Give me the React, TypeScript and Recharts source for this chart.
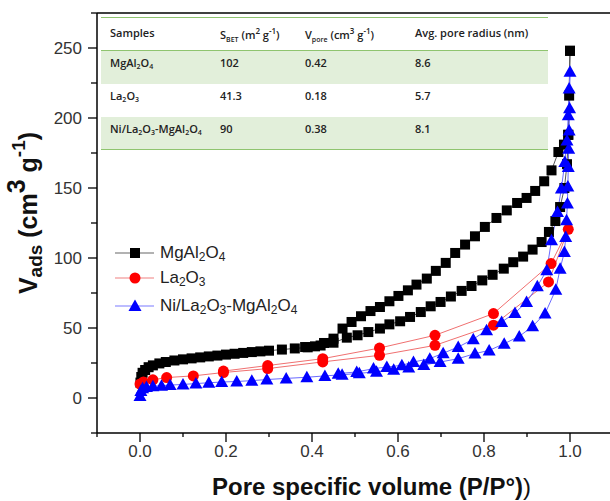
import React from "react";
import { LineChart, Line, XAxis, YAxis, ReferenceLine } from "recharts";

// axis ticks
const xTicks = [-0.1, 0, 0.1, 0.2, 0.3, 0.4, 0.5, 0.6, 0.7, 0.8, 0.9, 1.0, 1.1];
const xLabels = ["0.0", "0.2", "0.4", "0.6", "0.8", "1.0"];
const yTicks = [-25, 0, 25, 50, 75, 100, 125, 150, 175, 200, 225, 250, 275];
const yLabels = ["0", "50", "100", "150", "200", "250"];

// MgAl2O4 – adsorption / desorption branches
const mgAdsP = [0.001, 0.003, 0.006, 0.012, 0.02, 0.03, 0.045, 0.06, 0.08, 0.1, 0.12, 0.14, 0.16, 0.18, 0.2, 0.22, 0.24, 0.26, 0.28, 0.3, 0.33, 0.36, 0.39, 0.42, 0.45, 0.481, 0.506, 0.531, 0.558, 0.58, 0.605, 0.628, 0.653, 0.676, 0.699, 0.723, 0.748, 0.771, 0.796, 0.82, 0.846, 0.868, 0.891, 0.913, 0.934, 0.951, 0.966, 0.977, 0.987, 0.993, 0.996, 0.998, 1.0];
const mgAdsV = [11, 15, 18, 20, 22, 23.3, 24.7, 25.7, 26.8, 27.6, 28.3, 29, 29.7, 30.3, 31, 31.6, 32.2, 32.8, 33.3, 33.8, 34.6, 35.4, 36.2, 37.5, 39.5, 43.1, 44.8, 47.1, 49.6, 52.6, 54.8, 57.9, 61.4, 65.5, 68.6, 72.5, 76.5, 80, 84, 88, 92.4, 97, 101, 106, 111.4, 118.6, 126.4, 136.4, 150, 167, 188, 216, 248];
const mgDesP = [1.0, 0.996, 0.986, 0.973, 0.957, 0.94, 0.919, 0.899, 0.877, 0.853, 0.829, 0.802, 0.779, 0.756, 0.733, 0.711, 0.688, 0.667, 0.643, 0.623, 0.601, 0.58, 0.558, 0.536, 0.514, 0.492, 0.471, 0.45, 0.428, 0.407, 0.384];
const mgDesV = [248, 188, 181, 175.7, 162.6, 154.8, 147.9, 142.9, 139.3, 134, 128.6, 122.2, 115.5, 109.6, 103.6, 96.5, 90.8, 85.3, 81, 76.9, 72.9, 69.1, 65, 62.1, 58.4, 54.3, 49.6, 42.4, 39.3, 36.9, 36.4];

// La2O3
const laAdsP = [0.0, 0.008, 0.03, 0.062, 0.124, 0.194, 0.297, 0.425, 0.557, 0.686, 0.822, 0.95, 0.996];
const laAdsV = [10, 11.5, 13, 14.6, 15.8, 18.2, 21, 25.8, 30.5, 37.6, 52, 82.9, 120.5];
const laDesP = [0.956, 0.822, 0.686, 0.557, 0.425, 0.297, 0.194];
const laDesV = [96, 60.3, 44.8, 35.7, 28.1, 23.2, 19.2];

// Ni/La2O3-MgAl2O4
const niAdsP = [0.0, 0.002, 0.006, 0.015, 0.03, 0.05, 0.07, 0.1, 0.13, 0.16, 0.19, 0.225, 0.26, 0.295, 0.34, 0.388, 0.43, 0.47, 0.51, 0.55, 0.59, 0.625, 0.66, 0.698, 0.74, 0.779, 0.812, 0.847, 0.882, 0.913, 0.942, 0.967, 0.977, 0.987, 0.99, 0.992, 0.994, 0.995, 0.996, 0.997, 0.998, 0.999, 1.0];
const niAdsV = [1.5, 5, 7, 7.8, 8.4, 8.8, 9.2, 9.7, 10.3, 10.9, 11.4, 11.8, 12.4, 13.2, 14, 14.8, 15.8, 16.6, 17.6, 18.8, 20.2, 21.8, 23.6, 25.7, 28.1, 31.7, 34, 38.8, 44, 51.2, 60.3, 77.4, 92.4, 104.3, 115, 127, 139, 151, 165, 178, 191, 207, 233];
const niDesP = [0.998, 0.996, 0.993, 0.988, 0.98, 0.971, 0.957, 0.946, 0.924, 0.899, 0.872, 0.841, 0.806, 0.775, 0.74, 0.705, 0.674, 0.636, 0.609, 0.574, 0.543, 0.504, 0.461];
const niDesV = [221, 202, 184, 168.6, 149.6, 132.9, 112.6, 91.2, 79.8, 68.6, 60.7, 54.3, 48.4, 42, 36.4, 32, 28.1, 25.7, 23.4, 22.1, 21, 18.6, 17.4];

// table
const tableSamples = ["MgAl2O4", "La2O3", "Ni/La2O3-MgAl2O4"];
const tableSbet = ["102", "41.3", "90"];
const tableVpore = ["0.42", "0.18", "0.38"];
const tableRadius = ["8.6", "5.7", "8.1"];

const loop = (ap: number[], av: number[], dp: number[], dv: number[]) => [
  ...ap.map((p, i) => ({ p, v: av[i] })),
  ...dp.map((p, i) => ({ p, v: dv[i] })),
];

const mgData = loop(mgAdsP, mgAdsV, mgDesP, mgDesV);
const laData = loop(laAdsP, laAdsV, laDesP, laDesV);
const niData = loop(niAdsP, niAdsV, niDesP, niDesV);

const FONT = "Arial, 'Liberation Sans', sans-serif";

// chemical formula with subscripts
function Formula({ text, subSize }: { text: string; subSize: number }) {
  const parts = text.split(/(\d)/).filter((s) => s !== "");
  return (
    <>
      {parts.map((s, i) =>
        /\d/.test(s) ? (
          <sub key={i} style={{ fontSize: subSize, verticalAlign: "-0.25em", lineHeight: 0 }}>
            {s}
          </sub>
        ) : (
          <span key={i}>{s}</span>
        )
      )}
    </>
  );
}

const Square = (props: any) => {
  const { cx, cy, index } = props;
  if (cx == null || cy == null) return null;
  return <rect key={"s" + index} x={cx - 5} y={cy - 5} width={10} height={10} fill="#000" />;
};
const Circle = (props: any) => {
  const { cx, cy, index } = props;
  if (cx == null || cy == null) return null;
  return <circle key={"c" + index} cx={cx} cy={cy} r={5.5} fill="#ff0000" />;
};
const Triangle = (props: any) => {
  const { cx, cy, index } = props;
  if (cx == null || cy == null) return null;
  return (
    <polygon
      key={"t" + index}
      points={`${cx},${cy - 6.5} ${cx - 6.5},${cy + 5} ${cx + 6.5},${cy + 5}`}
      fill="#0000ff"
    />
  );
};

const XTick = (props: any) => {
  const { x, y, payload } = props;
  const v = payload.value;
  const label = xLabels.find((l) => Math.abs(parseFloat(l) - v) < 1e-6);
  return (
    <g>
      <line x1={x} y1={y} x2={x} y2={y + (label ? 9 : 4)} stroke="#000" strokeWidth={1.3} />
      {label && (
        <text x={x} y={y + 24} textAnchor="middle" fontSize={17} fontFamily={FONT} fill="#333">
          {label}
        </text>
      )}
    </g>
  );
};

const YTick = (props: any) => {
  const { x, y, payload } = props;
  const v = payload.value;
  const label = yLabels.find((l) => parseFloat(l) === v);
  return (
    <g>
      <line x1={x} y1={y} x2={x - (label ? 9 : 6)} y2={y} stroke="#000" strokeWidth={1.3} />
      {label && (
        <text x={x - 15} y={y + 6} textAnchor="end" fontSize={17} fontFamily={FONT} fill="#333">
          {label}
        </text>
      )}
    </g>
  );
};

const YTickRight = (props: any) => {
  const { x, y, payload } = props;
  const major = yLabels.some((l) => parseFloat(l) === payload.value);
  return <line x1={x} y1={y} x2={x - (major ? 6 : 4)} y2={y} stroke="#000" strokeWidth={1.3} />;
};

const legendItems = [
  { name: "MgAl2O4", line: "#666", Marker: "sq" },
  { name: "La2O3", line: "#f08080", Marker: "ci" },
  { name: "Ni/La2O3-MgAl2O4", line: "#7b7bff", Marker: "tr" },
];
const legendTops = [253, 278, 306];

export default function App() {
  return (
    <div
      style={{
        position: "absolute",
        left: 0,
        top: 0,
        width: 610,
        height: 501,
        overflow: "hidden",
        background: "#fff",
      }}
    >
      <LineChart width={620} height={501} margin={{ top: 13, right: 7, bottom: 0, left: 0 }}>
        <XAxis
          type="number"
          dataKey="p"
          domain={[-0.1, 1.1]}
          ticks={xTicks}
          interval={0}
          allowDataOverflow
          height={68}
          tickSize={0}
          tickMargin={0}
          tick={<XTick />}
          axisLine={{ stroke: "#000", strokeWidth: 1.5 }}
          tickLine={false}
        />
        <YAxis
          type="number"
          dataKey="v"
          domain={[-25, 275]}
          ticks={yTicks}
          interval={0}
          allowDataOverflow
          width={97}
          tickSize={0}
          tickMargin={0}
          tick={<YTick />}
          axisLine={{ stroke: "#000", strokeWidth: 1.5 }}
          tickLine={false}
        />
        <YAxis
          yAxisId="r"
          orientation="right"
          type="number"
          domain={[-25, 275]}
          ticks={yTicks}
          interval={0}
          width={0}
          tickSize={0}
          tickMargin={0}
          tick={<YTickRight />}
          axisLine={{ stroke: "#000", strokeWidth: 1.5 }}
          tickLine={false}
        />
        <ReferenceLine y={275} stroke="#000" strokeWidth={1.5} />
        <Line
          data={mgData}
          dataKey="v"
          type="linear"
          stroke="#555"
          strokeWidth={1}
          dot={Square}
          activeDot={false}
          isAnimationActive={false}
        />
        <Line
          data={laData}
          dataKey="v"
          type="linear"
          stroke="#f07070"
          strokeWidth={1}
          dot={Circle}
          activeDot={false}
          isAnimationActive={false}
        />
        <Line
          data={niData}
          dataKey="v"
          type="linear"
          stroke="#6a6aff"
          strokeWidth={1}
          dot={Triangle}
          activeDot={false}
          isAnimationActive={false}
        />
      </LineChart>

      {/* table */}
      <div
        style={{
          position: "absolute",
          left: 101,
          top: 17,
          width: 447,
          fontFamily: "'Open Sans', sans-serif",
          fontSize: 11,
          fontWeight: 600,
          color: "#222",
        }}
      >
        <div style={{ height: 34, borderTop: "1.5px solid #8fc46f", borderBottom: "1.5px solid #8fc46f", position: "relative", boxSizing: "border-box" }}>
          <span style={{ position: "absolute", left: 9, top: 7 }}>Samples</span>
          <span style={{ position: "absolute", left: 119, top: 7 }}>
            S<sub style={{ fontSize: 7 }}>BET</sub> (m<sup style={{ fontSize: 8 }}>2</sup> g<sup style={{ fontSize: 8 }}>-1</sup>)
          </span>
          <span style={{ position: "absolute", left: 204, top: 7 }}>
            V<sub style={{ fontSize: 7 }}>pore</sub> (cm<sup style={{ fontSize: 8 }}>3</sup> g<sup style={{ fontSize: 8 }}>-1</sup>)
          </span>
          <span style={{ position: "absolute", left: 314, top: 7 }}>Avg. pore radius (nm)</span>
        </div>
        {tableSamples.map((s, i) => (
          <div
            key={s}
            style={{
              height: i === 1 ? 33 : 32.5,
              background: i === 1 ? "#fff" : "#e2efda",
              position: "relative",
              borderBottom: i === 2 ? "1.5px solid #8fc46f" : "none",
            }}
          >
            <span style={{ position: "absolute", left: 9, top: 4 }}>
              <Formula text={s} subSize={7} />
            </span>
            <span style={{ position: "absolute", left: 119, top: 4 }}>{tableSbet[i]}</span>
            <span style={{ position: "absolute", left: 204, top: 4 }}>{tableVpore[i]}</span>
            <span style={{ position: "absolute", left: 314, top: 4 }}>{tableRadius[i]}</span>
          </div>
        ))}
      </div>

      {/* legend */}
      {legendItems.map((it, i) => (
        <div
          key={it.name}
          style={{
            position: "absolute",
            left: 114,
            top: legendTops[i] - 12,
            height: 24,
            display: "flex",
            alignItems: "center",
            fontFamily: FONT,
            fontSize: 17,
            color: "#222",
            whiteSpace: "nowrap",
          }}
        >
          <svg width={46} height={24}>
            <line x1={1} y1={12} x2={40} y2={12} stroke={it.line} strokeWidth={1.2} />
            {it.Marker === "sq" && <rect x={16} y={7} width={10} height={10} fill="#000" />}
            {it.Marker === "ci" && <circle cx={21} cy={12} r={5.5} fill="#ff0000" />}
            {it.Marker === "tr" && <polygon points="21,5.5 14.5,17 27.5,17" fill="#0000ff" />}
          </svg>
          <span>
            <Formula text={it.name} subSize={12} />
          </span>
        </div>
      ))}

      {/* axis titles */}
      <div
        style={{
          position: "absolute",
          left: 28,
          top: 213,
          transform: "translate(-50%, -50%) rotate(-90deg)",
          fontFamily: FONT,
          fontWeight: 700,
          fontSize: 25,
          whiteSpace: "nowrap",
          color: "#111",
        }}
      >
        V<sub style={{ fontSize: 19, verticalAlign: "-0.3em", lineHeight: 0 }}>ads</sub> (cm
        <sup style={{ fontSize: 25, verticalAlign: "0.45em", lineHeight: 0 }}>3</sup> g
        <sup style={{ fontSize: 19, verticalAlign: "0.6em", lineHeight: 0 }}>-1</sup>)
      </div>
      <div
        style={{
          position: "absolute",
          left: 212,
          top: 473,
          fontFamily: FONT,
          fontWeight: 700,
          fontSize: 24,
          whiteSpace: "nowrap",
          color: "#111",
        }}
      >
        Pore specific volume (P/P°)<span style={{ fontWeight: 400 }}>)</span>
      </div>
    </div>
  );
}
